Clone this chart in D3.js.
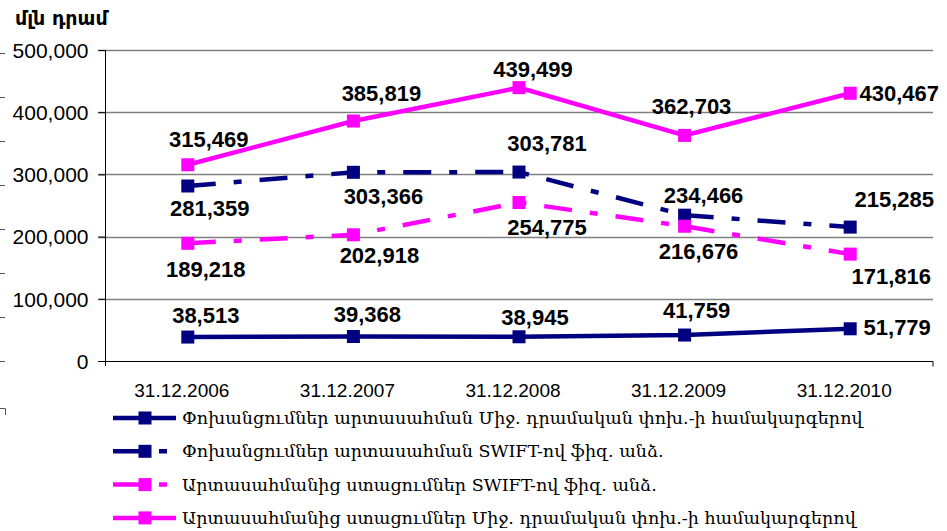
<!DOCTYPE html>
<html>
<head>
<meta charset="utf-8">
<script src="https://cdn.jsdelivr.net/npm/d3@7"></script>
<style>
  body { margin: 0; background: #fff; }
  svg { display: block; }
  .tick text { font-family: "Liberation Sans", Arial, sans-serif; }
  .valLabel { font-family: "Liberation Sans", Arial, sans-serif; font-weight: bold; font-size: 22px; fill: #000; }
  .legendText { font-family: "DejaVu Serif", serif; font-size: 17.5px; fill: #000; }
</style>
</head>
<body>
<script>
// chart values
var categories = ["31.12.2006", "31.12.2007", "31.12.2008", "31.12.2009", "31.12.2010"];
var seriesNames = [
	"Փոխանցումներ արտասահման Միջ. դրամական փոխ.-ի համակարգերով",
	"Փոխանցումներ արտասահման SWIFT-ով ֆիզ. անձ.",
	"Արտասահմանից ստացումներ SWIFT-ով ֆիզ. անձ.",
	"Արտասահմանից ստացումներ Միջ. դրամական փոխ.-ի համակարգերով"
];
var transfersIntl = [38513, 39368, 38945, 41759, 51779];
var transfersSwift = [281359, 303366, 303781, 234466, 215285];
var receiptsSwift = [189218, 202918, 254775, 216676, 171816];
var receiptsIntl = [315469, 385819, 439499, 362703, 430467];
var yTicks = [0, 100000, 200000, 300000, 400000, 500000];
var unitLabel = "մլն դրամ";

// style / layout per series (label offsets relative to the point)
var seriesStyle = [
	{ values: transfersIntl, color: "#000080", dash: null,
	  labelOff: [[18, -22], [14, -22], [16, -19], [12, -25], [47, -1]] },
	{ values: transfersSwift, color: "#000080", dash: "28,18,8,18",
	  labelOff: [[22, 22], [30, 24], [28, -29], [19, -20], [44, -28]] },
	{ values: receiptsSwift, color: "#FF00FF", dash: "28,18,8,18",
	  labelOff: [[18, 26], [26, 21], [28, 25], [14, 25], [41, 22]] },
	{ values: receiptsIntl, color: "#FF00FF", dash: null,
	  labelOff: [[21, -25], [28, -28], [14, -18], [7, -29], [49, 0]] }
];

var width = 947, height = 531;
var plotLeft = 105, plotRight = 933, plotTop = 50, plotBottom = 361;
var markerSize = 13;

var svg = d3.select("body").append("svg")
	.attr("width", width)
	.attr("height", height);

var x = d3.scaleBand().domain(categories).range([plotLeft, plotRight]);
var y = d3.scaleLinear().domain([0, 500000]).range([plotBottom, plotTop]);
var fmt = d3.format(",");

// stray tick marks on the far left edge
svg.append("g").selectAll("line")
	.data(d3.range(8))
	.enter().append("line")
	.attr("x1", 0).attr("x2", 5)
	.attr("y1", function(d) { return 53.5 + d * 44; })
	.attr("y2", function(d) { return 53.5 + d * 44; })
	.style("stroke", "#555").style("stroke-width", 1);
svg.append("path")
	.attr("d", "M 0 408.5 H 5.5 V 415")
	.style("fill", "none").style("stroke", "#555").style("stroke-width", 1);

// gridlines
svg.append("g").selectAll("line")
	.data(yTicks.filter(function(d) { return d > 0; }))
	.enter().append("line")
	.attr("x1", plotLeft - 7).attr("x2", plotRight)
	.attr("y1", function(d) { return Math.round(y(d)) + 0.5; })
	.attr("y2", function(d) { return Math.round(y(d)) + 0.5; })
	.style("stroke", "#808080").style("stroke-width", 1.3);

// y axis
var yAxis = svg.append("g")
	.attr("transform", "translate(" + (plotLeft + 0.5) + ",0)")
	.call(d3.axisLeft(y).tickValues(yTicks).tickFormat(fmt).tickSize(7).tickPadding(10));
yAxis.select(".domain").attr("d", "M 0 " + plotTop + " V " + (plotBottom + 5)).style("stroke", "#000");
yAxis.selectAll(".tick line").style("stroke", "#000");
yAxis.selectAll(".tick text").style("font-size", "21px").style("fill", "#000").attr("dy", "0.35em");

// x axis
var xAxis = svg.append("g")
	.attr("transform", "translate(0," + (plotBottom + 0.5) + ")")
	.call(d3.axisBottom(x).tickSize(0).tickPadding(22));
xAxis.select(".domain").attr("d", "M " + (plotLeft - 7) + " 0 H " + plotRight + " V 5").style("stroke", "#000");
xAxis.selectAll(".tick text").style("font-size", "19px").style("fill", "#000").attr("dx", "-6");

// title
svg.append("text")
	.attr("x", 15).attr("y", 25)
	.style("font-family", "DejaVu Sans, sans-serif")
	.style("font-weight", "bold")
	.style("font-size", "19px")
	.text(unitLabel);

var cx = function(i) { return x(categories[i]) + x.bandwidth() / 2; };

var line = d3.line()
	.x(function(d, i) { return cx(i); })
	.y(function(d) { return y(d); });

seriesStyle.forEach(function(s) {
	var g = svg.append("g");
	g.append("path")
		.datum(s.values)
		.attr("d", line)
		.style("fill", "none")
		.style("stroke", s.color)
		.style("stroke-width", 4.5)
		.style("stroke-dasharray", s.dash);
	g.selectAll("rect")
		.data(s.values)
		.enter().append("rect")
		.attr("x", function(d, i) { return cx(i) - markerSize / 2; })
		.attr("y", function(d) { return y(d) - markerSize / 2; })
		.attr("width", markerSize).attr("height", markerSize)
		.style("fill", s.color);
	g.selectAll("text")
		.data(s.values)
		.enter().append("text")
		.attr("class", "valLabel")
		.attr("x", function(d, i) { return cx(i) + s.labelOff[i][0]; })
		.attr("y", function(d, i) { return y(d) + s.labelOff[i][1]; })
		.attr("dy", "0.35em")
		.style("text-anchor", "middle")
		.text(function(d) { return fmt(d); });
});

// legend
var legend = svg.append("g").attr("class", "legend");
seriesStyle.forEach(function(s, i) {
	var ly = 418 + i * 33.3;
	legend.append("line")
		.attr("x1", 113).attr("x2", 176)
		.attr("y1", ly).attr("y2", ly)
		.style("stroke", s.color)
		.style("stroke-width", 4.5)
		.style("stroke-dasharray", s.dash);
	legend.append("rect")
		.attr("x", 145 - markerSize / 2).attr("y", ly - markerSize / 2)
		.attr("width", markerSize).attr("height", markerSize)
		.style("fill", s.color);
	legend.append("text")
		.attr("class", "legendText")
		.attr("x", 182).attr("y", ly)
		.attr("dy", "0.35em")
		.text(seriesNames[i]);
});
</script>
</body>
</html>
